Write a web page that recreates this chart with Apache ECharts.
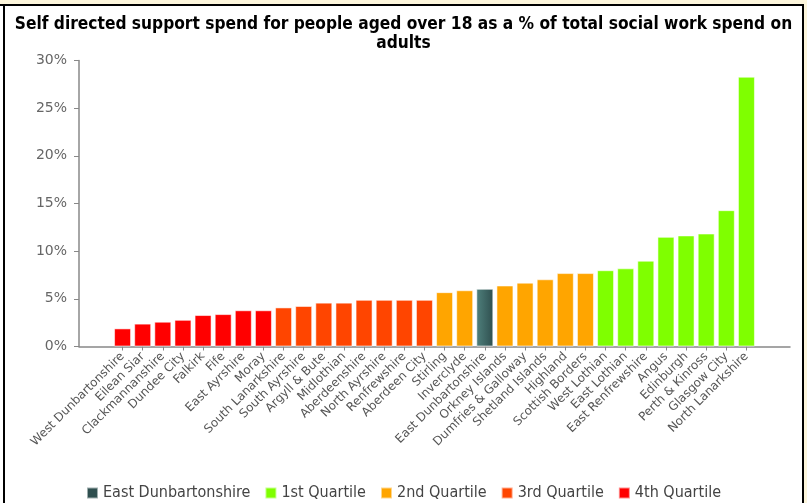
<!DOCTYPE html>
<html><head><meta charset="utf-8">
<script src="https://cdn.jsdelivr.net/npm/echarts@6/dist/echarts.min.js"></script>
<style>html,body{margin:0;padding:0;background:#fff;}#c{width:807px;height:503px;}</style>
</head><body><div id="c"></div>
<script>
const categories = ["West Dunbartonshire","Eilean Siar","Clackmannanshire","Dundee City","Falkirk","Fife","East Ayrshire","Moray","South Lanarkshire","South Ayrshire","Argyll & Bute","Midlothian","Aberdeenshire","North Ayrshire","Renfrewshire","Aberdeen City","Stirling","Inverclyde","East Dunbartonshire","Orkney Islands","Dumfries & Galloway","Shetland Islands","Highland","Scottish Borders","West Lothian","East Lothian","East Renfrewshire","Angus","Edinburgh","Perth & Kinross","Glasgow City","North Lanarkshire"];
const values = [1.9,2.4,2.6,2.8,3.3,3.4,3.8,3.8,4.1,4.25,4.6,4.6,4.9,4.9,4.9,4.9,5.7,5.9,6.05,6.4,6.7,7.05,7.7,7.7,8.0,8.2,9.0,11.5,11.65,11.85,14.3,28.3];
const groups = ["4th Quartile","4th Quartile","4th Quartile","4th Quartile","4th Quartile","4th Quartile","4th Quartile","4th Quartile","3rd Quartile","3rd Quartile","3rd Quartile","3rd Quartile","3rd Quartile","3rd Quartile","3rd Quartile","3rd Quartile","2nd Quartile","2nd Quartile","East Dunbartonshire","2nd Quartile","2nd Quartile","2nd Quartile","2nd Quartile","2nd Quartile","1st Quartile","1st Quartile","1st Quartile","1st Quartile","1st Quartile","1st Quartile","1st Quartile","1st Quartile"];
const seriesNames = ["East Dunbartonshire","1st Quartile","2nd Quartile","3rd Quartile","4th Quartile"];
const yTicks = [0,5,10,15,20,25,30];

const colors = {
  "East Dunbartonshire": {type:'linear',x:0,y:0,x2:1,y2:0,colorStops:[{offset:0,color:'#4f807c'},{offset:1,color:'#2f4f4f'}]},
  "1st Quartile":"#7fff00","2nd Quartile":"#ffa500","3rd Quartile":"#ff4500","4th Quartile":"#ff0000"
};
const legendColors = {"East Dunbartonshire":"#2f4f4f","1st Quartile":"#7fff00","2nd Quartile":"#ffa500","3rd Quartile":"#ff4500","4th Quartile":"#ff0000"};

const series = seriesNames.map(n => ({
  name:n, type:'bar', xAxisIndex:1, yAxisIndex:1, stack:'s', barWidth:17,
  itemStyle:{color:colors[n], borderColor:'rgba(255,255,255,0.55)', borderWidth:1},
  data: values.map((v,i)=> groups[i]===n ? v : null)
}));

const chart = echarts.init(document.getElementById('c'));
chart.setOption({
  animation:false,
  title:{text:"Self directed support spend for people aged over 18 as a % of total social work spend on\nadults",
    left:'center', top:10,
    textStyle:{fontFamily:'DejaVu Sans Condensed',fontWeight:'bold',fontSize:17.2,color:'#000',lineHeight:19}},
  legend:{top:480,left:'center',icon:'rect',itemWidth:11,itemHeight:11,itemGap:14,
    textStyle:{fontFamily:'DejaVu Sans Condensed',fontSize:16,color:'#444'},
    data:seriesNames.map(n=>({name:n,itemStyle:{color:legendColors[n]}}))},
  grid:[{left:79,right:17,top:60.5,bottom:156.5},{left:112.5,right:50.5,top:60.5,bottom:156.5}],
  xAxis:[
    {gridIndex:0,type:'value',min:0,max:1,axisLine:{show:true,lineStyle:{color:'#888',width:1.5}},axisTick:{show:false},axisLabel:{show:false},splitLine:{show:false}},
    {gridIndex:1,type:'category',data:categories,axisLine:{show:false},
      axisTick:{show:true,alignWithLabel:true,length:4,lineStyle:{color:'#888'}},
      axisLabel:{interval:0,rotate:45,margin:8,fontFamily:'DejaVu Sans',fontSize:12,color:'#555'}}
  ],
  yAxis:[
    {gridIndex:0,type:'value',min:0,max:30,interval:5,
      axisLine:{show:true,lineStyle:{color:'#888',width:1.5}},
      axisTick:{show:true,length:5,lineStyle:{color:'#888'}},
      axisLabel:{formatter:v=>yTicks.includes(v)?v+'%':'',fontFamily:'DejaVu Sans',fontSize:14,color:'#666',margin:12},
      splitLine:{show:false}},
    {gridIndex:1,type:'value',min:0,max:30,show:false,splitLine:{show:false}}
  ],
  series:series,
  graphic:[
    {type:'rect',shape:{x:0,y:0,width:807,height:4},style:{fill:'#fdf6dc'},z:100},
    {type:'rect',shape:{x:804,y:0,width:3,height:503},style:{fill:'#fdf6dc'},z:100},
    {type:'line',shape:{x1:0,y1:5,x2:804,y2:5},style:{stroke:'#000',lineWidth:2},z:101},
    {type:'line',shape:{x1:4,y1:4,x2:4,y2:503},style:{stroke:'#000',lineWidth:2},z:101},
    {type:'line',shape:{x1:803,y1:4,x2:803,y2:503},style:{stroke:'#000',lineWidth:2},z:101}
  ]
});
</script></body></html>
